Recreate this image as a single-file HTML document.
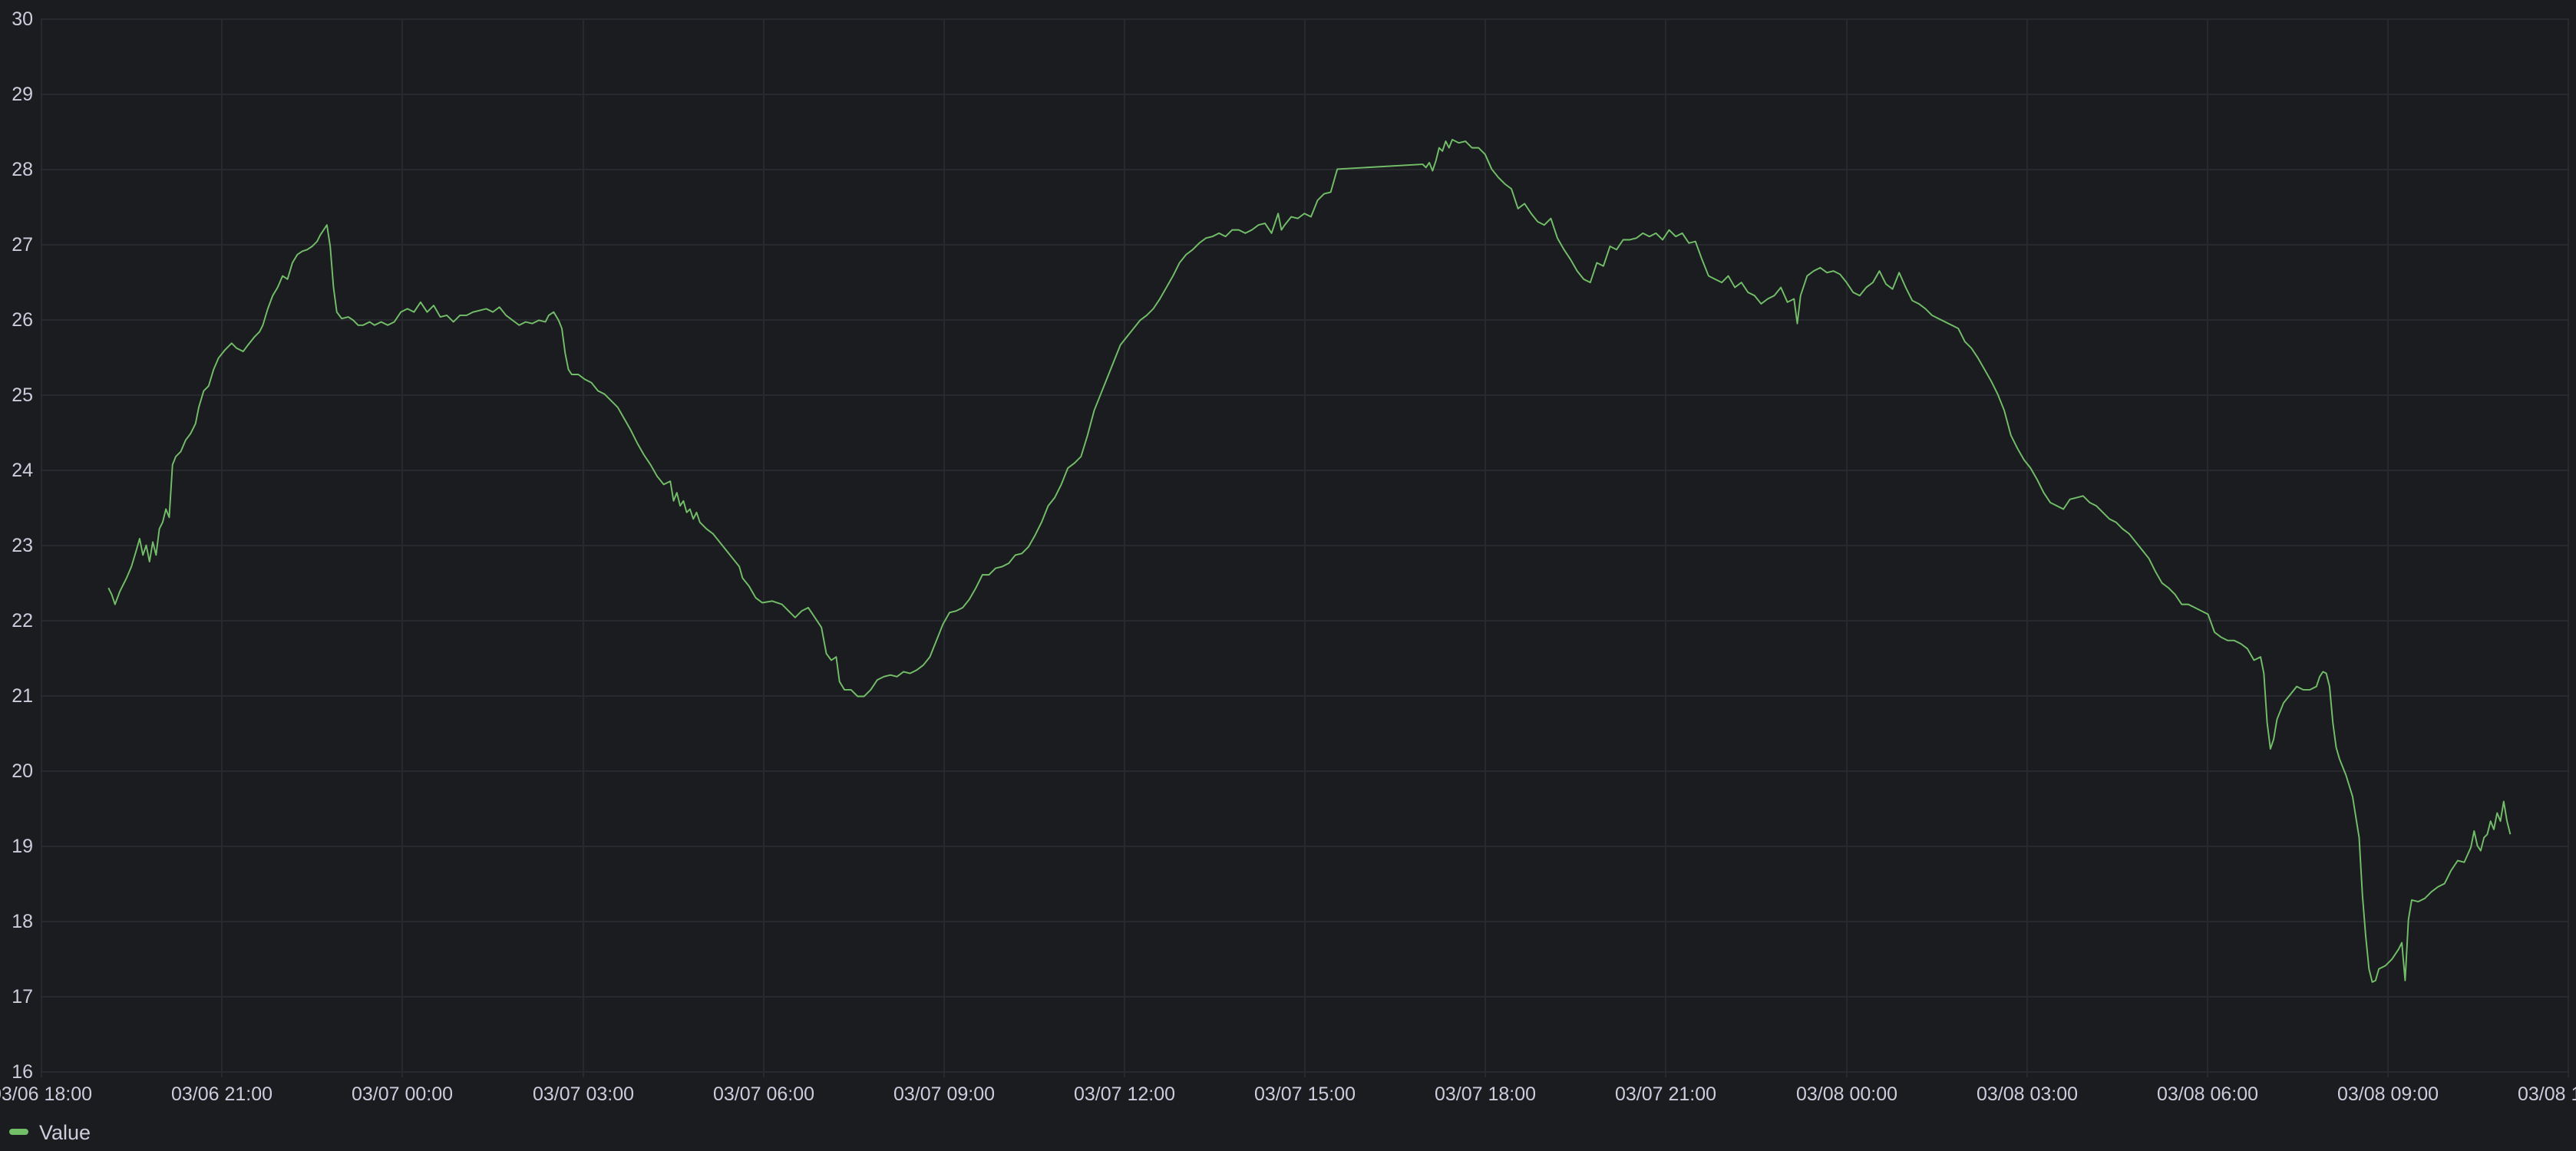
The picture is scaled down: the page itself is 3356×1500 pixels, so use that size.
<!DOCTYPE html>
<html><head><meta charset="utf-8"><style>
html,body{margin:0;padding:0;background:#1b1c20;}
body{width:3356px;height:1500px;overflow:hidden;position:relative;font-family:"Liberation Sans",sans-serif;color:#ccccdc;}
svg{position:absolute;left:0;top:0;}
</style></head><body>
<svg width="3356" height="1500" viewBox="0 0 3356 1500">
<g stroke="#28292e" stroke-width="2">
<line x1="53" y1="25" x2="3347" y2="25"/><line x1="53" y1="123" x2="3347" y2="123"/><line x1="53" y1="221" x2="3347" y2="221"/><line x1="53" y1="319" x2="3347" y2="319"/><line x1="53" y1="417" x2="3347" y2="417"/><line x1="53" y1="515" x2="3347" y2="515"/><line x1="53" y1="613" x2="3347" y2="613"/><line x1="53" y1="711" x2="3347" y2="711"/><line x1="53" y1="809" x2="3347" y2="809"/><line x1="53" y1="907" x2="3347" y2="907"/><line x1="53" y1="1005" x2="3347" y2="1005"/><line x1="53" y1="1103" x2="3347" y2="1103"/><line x1="53" y1="1201" x2="3347" y2="1201"/><line x1="53" y1="1299" x2="3347" y2="1299"/><line x1="53" y1="1397" x2="3347" y2="1397"/>
<line x1="54" y1="25" x2="54" y2="1404"/><line x1="289" y1="25" x2="289" y2="1404"/><line x1="524" y1="25" x2="524" y2="1404"/><line x1="760" y1="25" x2="760" y2="1404"/><line x1="995" y1="25" x2="995" y2="1404"/><line x1="1230" y1="25" x2="1230" y2="1404"/><line x1="1465" y1="25" x2="1465" y2="1404"/><line x1="1700" y1="25" x2="1700" y2="1404"/><line x1="1935" y1="25" x2="1935" y2="1404"/><line x1="2170" y1="25" x2="2170" y2="1404"/><line x1="2406" y1="25" x2="2406" y2="1404"/><line x1="2641" y1="25" x2="2641" y2="1404"/><line x1="2876" y1="25" x2="2876" y2="1404"/><line x1="3111" y1="25" x2="3111" y2="1404"/><line x1="3346" y1="25" x2="3346" y2="1404"/>
</g>
<g font-size="25" fill="#ccccdc" text-anchor="end">
<text x="43" y="33">30</text><text x="43" y="131">29</text><text x="43" y="229">28</text><text x="43" y="327">27</text><text x="43" y="425">26</text><text x="43" y="523">25</text><text x="43" y="621">24</text><text x="43" y="719">23</text><text x="43" y="817">22</text><text x="43" y="915">21</text><text x="43" y="1013">20</text><text x="43" y="1111">19</text><text x="43" y="1209">18</text><text x="43" y="1307">17</text><text x="43" y="1405">16</text>
</g>
<g font-size="25" fill="#ccccdc" text-anchor="middle">
<text x="54" y="1434">03/06 18:00</text><text x="289" y="1434">03/06 21:00</text><text x="524" y="1434">03/07 00:00</text><text x="760" y="1434">03/07 03:00</text><text x="995" y="1434">03/07 06:00</text><text x="1230" y="1434">03/07 09:00</text><text x="1465" y="1434">03/07 12:00</text><text x="1700" y="1434">03/07 15:00</text><text x="1935" y="1434">03/07 18:00</text><text x="2170" y="1434">03/07 21:00</text><text x="2406" y="1434">03/08 00:00</text><text x="2641" y="1434">03/08 03:00</text><text x="2876" y="1434">03/08 06:00</text><text x="3111" y="1434">03/08 09:00</text><text x="3346" y="1434">03/08 12:00</text>
</g>
<rect x="12" y="1471" width="25" height="8" rx="4" fill="#73bf69"/>
<text x="51" y="1485" font-size="27" fill="#ccccdc">Value</text>
<g transform="scale(2.1403)">
<polyline fill="none" stroke="#73bf69" stroke-width="0.9" stroke-linejoin="round" points="66,358 68,362 70,368 73,360 77,352 80,345 83,335 85,328 87,338 89,332 91,342 93,330 95,338 97,322 99,318 101,310 103,315 105,283 107,278 110,275 113,268 116,264 119,258 121,248 124,238 127,235 130,225 133,218 137,213 141,209 144,212 148,214 151,210 155,205 158,202 160,198 163,188 166,180 169,175 172,168 175,170 178,160 181,155 184,153 187,152 190,150 193,147 195,143 197,140 199,137 201,150 203,175 205,190 208,194 212,193 215,195 218,198 221,198 225,196 228,198 232,196 236,198 240,196 244,190 248,188 252,190 256,184 260,190 264,186 268,193 272,192 276,196 280,192 284,192 288,190 292,189 296,188 300,190 304,187 308,192 312,195 316,198 320,196 324,197 328,195 332,196 334,192 337,190 340,195 342,200 344,215 346,225 348,228 352,228 356,231 360,233 364,238 368,240 372,244 376,248 380,255 384,262 388,270 392,277 396,283 400,290 404,295 408,293 410,305 412,300 414,308 416,305 418,312 420,310 422,316 424,312 426,318 430,322 434,325 438,330 442,335 446,340 450,345 452,352 456,357 460,364 464,367 470,366 476,368 480,372 484,376 488,372 492,370 496,376 500,382 503,398 506,402 509,400 511,415 514,420 518,420 522,424 526,424 530,420 534,414 538,412 542,411 546,412 550,409 554,410 558,408 562,405 566,400 570,390 574,380 578,373 582,372 586,370 590,365 594,358 598,350 602,350 606,346 610,345 614,343 618,338 622,337 626,333 630,326 634,318 638,308 642,303 646,295 650,285 654,282 658,278 662,265 666,250 670,240 674,230 678,220 682,210 686,205 690,200 694,195 698,192 702,188 706,182 710,175 714,168 718,160 722,155 726,152 730,148 734,145 738,144 742,142 746,144 750,140 754,140 758,142 762,140 766,137 770,136 774,142 778,130 780,140 782,137 786,132 790,133 794,130 798,132 802,122 806,118 810,117 814,103 866,100 868,102 870,99 872,104 874,98 876,90 878,92 880,86 882,90 884,85 888,87 892,86 896,90 900,90 904,94 908,103 912,108 916,112 920,115 924,127 928,124 932,130 936,135 940,137 944,133 948,145 952,152 956,158 960,165 964,170 968,172 972,160 976,162 980,150 984,152 988,146 992,146 996,145 1000,142 1004,144 1008,142 1012,146 1016,140 1020,144 1024,142 1028,148 1032,147 1036,158 1040,168 1044,170 1048,172 1052,168 1056,175 1060,172 1064,178 1068,180 1072,185 1076,182 1080,180 1084,175 1088,184 1092,182 1094,197 1096,180 1100,168 1104,165 1108,163 1112,166 1116,165 1120,167 1124,172 1128,178 1132,180 1136,175 1140,172 1144,165 1148,173 1152,176 1156,166 1160,175 1164,183 1168,185 1172,188 1176,192 1180,194 1184,196 1188,198 1192,200 1196,208 1200,212 1204,218 1208,225 1212,232 1216,240 1220,250 1224,265 1228,273 1232,280 1236,285 1240,292 1244,300 1248,306 1252,308 1256,310 1260,304 1264,303 1268,302 1272,306 1276,308 1280,312 1284,316 1288,318 1292,322 1296,325 1300,330 1304,335 1308,340 1312,348 1316,355 1320,358 1324,362 1328,368 1332,368 1336,370 1340,372 1344,374 1348,385 1352,388 1356,390 1360,390 1364,392 1368,395 1372,402 1376,400 1378,410 1380,440 1382,456 1384,450 1386,438 1390,428 1394,423 1398,418 1402,420 1406,420 1410,418 1412,412 1414,409 1416,410 1418,418 1420,440 1422,455 1424,462 1428,472 1432,485 1436,510 1438,545 1440,570 1442,590 1444,598 1446,597 1448,590 1452,588 1456,584 1460,578 1462,574 1464,597 1466,560 1468,548 1472,549 1476,547 1480,543 1484,540 1488,538 1492,530 1496,524 1500,525 1504,516 1506,506 1508,515 1510,518 1512,510 1514,508 1516,500 1518,505 1520,495 1522,500 1524,488 1526,500 1528,508"/>
</g>
</svg>
</body></html>
